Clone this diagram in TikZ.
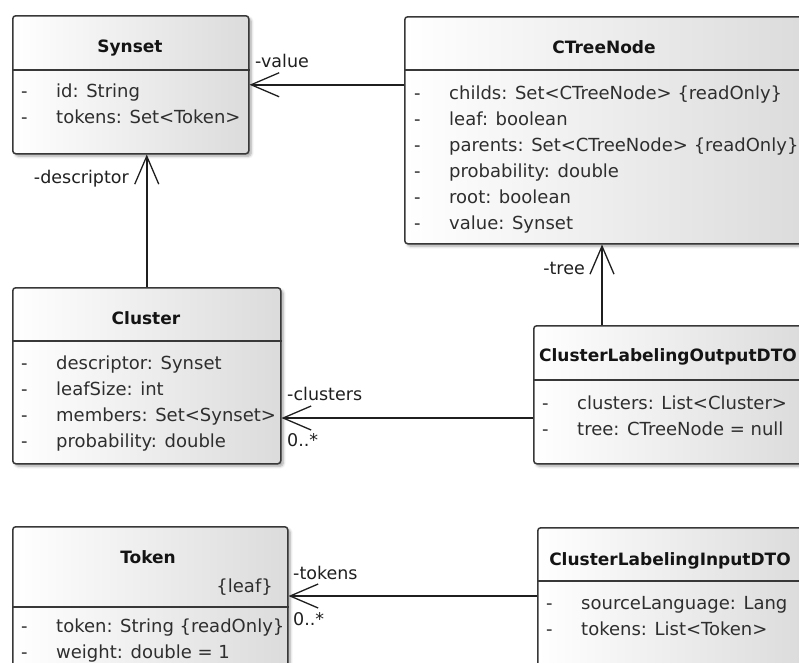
\documentclass[tikz,border=0pt]{standalone}
\usepackage{fontspec}
\setmainfont{DejaVu Sans}
\usetikzlibrary{arrows.meta,calc,shadows.blur}

\tikzset{
  classbox/.style={draw=black!78, line width=1.5pt, rounded corners=3pt,
    left color=white, right color=black!14, inner sep=0pt, anchor=north west,
    blur shadow={shadow xshift=2.5pt, shadow yshift=-2.5pt,
      shadow blur radius=2.5pt, shadow opacity=35}},
  sepline/.style={draw=black!78, line width=1.5pt},
  classtitle/.style={font=\fontsize{17}{20}\selectfont\bfseries, anchor=base,
    inner sep=0pt, text=black!92},
  attr/.style={font=\fontsize{18}{20}\selectfont, anchor=base west,
    inner sep=0pt, text=black!82},
  rolelabel/.style={font=\fontsize{17.5}{20}\selectfont, inner sep=0pt,
    text=black!88},
  assoc/.style={draw=black!88, line width=1.5pt,
    -{Straight Barb[length=28pt,width=24pt,line width=1.3pt]}},
}

% one attribute row per item: visibility dash, then the attribute text
\newcommand\umlattrs[4]{%
  \foreach \t [count=\i from 0] in {#4} {
    \node[attr] (#1-dash\i) at (#2, #3+26*\i) {-};
    \node[attr] (#1-attr\i) at (#2+35, #3+26*\i) {\t};
  }}

\begin{document}
\begin{tikzpicture}[x=1pt,y=-1pt]
\clip (0,0) rectangle (799,662);

% ---------------- classes ----------------
\node[classbox, minimum width=236pt, minimum height=138pt] (synset) at (12,15) {};
\draw[sepline] ($(synset.north west)+(0,55)$) -- ($(synset.north east)+(0,55)$);
\node[classtitle] (synset-name) at (130,52) {Synset};
\umlattrs{synset}{21}{97}{id: String, tokens: Set<Token>}

\node[classbox, minimum width=401pt, minimum height=227pt] (ctree) at (404,16) {};
\draw[sepline] ($(ctree.north west)+(0,54)$) -- ($(ctree.north east)+(0,54)$);
\node[classtitle] (ctree-name) at (604,53) {CTreeNode};
\umlattrs{ctree}{414}{99}{childs: Set<CTreeNode> \{readOnly\}, leaf: boolean,
  parents: Set<CTreeNode> \{readOnly\}, probability: double, root: boolean,
  value: Synset}

\node[classbox, minimum width=268pt, minimum height=176pt] (cluster) at (12,287) {};
\draw[sepline] ($(cluster.north west)+(0,54)$) -- ($(cluster.north east)+(0,54)$);
\node[classtitle] (cluster-name) at (146,324) {Cluster};
\umlattrs{cluster}{21}{369}{descriptor: Synset, leafSize: int,
  members: Set<Synset>, probability: double}

\node[classbox, minimum width=272pt, minimum height=138pt] (outdto) at (533,325) {};
\draw[sepline] ($(outdto.north west)+(0,55)$) -- ($(outdto.north east)+(0,55)$);
\node[classtitle] (outdto-name) at (668,361) {ClusterLabelingOutputDTO};
\umlattrs{outdto}{542}{409}{clusters: List<Cluster>, tree: CTreeNode = null}

\node[classbox, minimum width=275pt, minimum height=150pt] (token) at (12,526) {};
\draw[sepline] ($(token.north west)+(0,81)$) -- ($(token.north east)+(0,81)$);
\node[classtitle] (token-name) at (148,563) {Token};
\node[attr, anchor=base east] (token-leaf) at (273,592) {\{leaf\}};
\umlattrs{token}{21}{632}{token: String \{readOnly\}, weight: double = 1}

\node[classbox, minimum width=268pt, minimum height=150pt] (indto) at (537,527) {};
\draw[sepline] ($(indto.north west)+(0,54)$) -- ($(indto.north east)+(0,54)$);
\node[classtitle] (indto-name) at (670,565) {ClusterLabelingInputDTO};
\umlattrs{indto}{546}{609}{sourceLanguage: Lang, tokens: List<Token>}

% ---------------- associations ----------------
\draw[assoc] (ctree.west |- synset.east) -- (synset.east);
\node[rolelabel, anchor=base west] (value-role) at (255,67) {-value};

\draw[assoc] (cluster.north) -- (cluster.north |- synset.south);
\node[rolelabel, anchor=base east] (descriptor-role) at (129,183) {-descriptor};

\coordinate (tree-start) at ($(outdto.north west)+(69,0)$);
\draw[assoc] (tree-start) -- (tree-start |- ctree.south);
\node[rolelabel, anchor=base east] (tree-role) at (585,274) {-tree};

\coordinate (clusters-start) at ($(outdto.north west)+(0,93)$);
\draw[assoc] (clusters-start) -- (cluster.east |- clusters-start);
\node[rolelabel, anchor=base west] (clusters-role) at (287,400) {-clusters};
\node[rolelabel, anchor=base west] (clusters-mult) at (287,446) {0..*};

\coordinate (tokens-start) at ($(indto.north west)+(0,69)$);
\draw[assoc] (tokens-start) -- (token.east |- tokens-start);
\node[rolelabel, anchor=base west] (tokens-role) at (293,579) {-tokens};
\node[rolelabel, anchor=base west] (tokens-mult) at (293,625) {0..*};
\end{tikzpicture}
\end{document}
